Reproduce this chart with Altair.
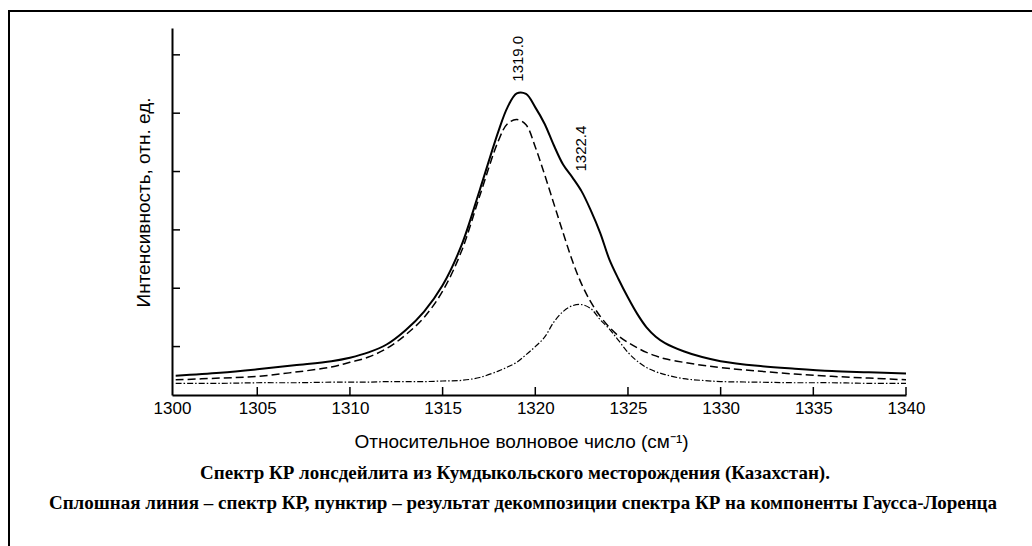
import altair as alt
import pandas as pd

# Wavenumber grid (cm^-1)
X = [1300.6, 1303, 1305, 1307, 1309, 1310, 1311, 1312, 1313, 1314, 1315, 1316, 1317,
     1318, 1318.5, 1319, 1319.5, 1320, 1320.5, 1321, 1321.5, 1322, 1322.5, 1323,
     1323.5, 1324, 1324.5, 1325, 1325.5, 1326, 1326.5, 1327, 1328, 1329, 1330,
     1332, 1334, 1336, 1338, 1340]

# Measured Raman spectrum (solid line)
SPECTRUM = [0.50, 0.55, 0.61, 0.68, 0.75, 0.81, 0.90, 1.04, 1.28, 1.60, 2.05, 2.72, 3.68,
            4.68, 5.10, 5.34, 5.33, 5.10, 4.82, 4.45, 4.12, 3.90, 3.66, 3.33,
            2.95, 2.49, 2.15, 1.84, 1.56, 1.33, 1.17, 1.06, 0.92, 0.82, 0.75,
            0.67, 0.62, 0.58, 0.56, 0.54]

# Component at 1319.0 (dashed)
COMP_1319 = [0.43, 0.46, 0.49, 0.56, 0.65, 0.73, 0.82, 0.97, 1.20, 1.50, 1.95, 2.62, 3.58,
             4.52, 4.82, 4.89, 4.80, 4.42, 3.95, 3.45, 2.95, 2.47, 2.07, 1.76,
             1.52, 1.33, 1.18, 1.07, 0.98, 0.90, 0.84, 0.79, 0.73, 0.68, 0.64,
             0.58, 0.53, 0.49, 0.46, 0.43]

# Component at 1322.4 (dash-dot)
COMP_1322 = [0.37, 0.37, 0.38, 0.38, 0.39, 0.39, 0.39, 0.40, 0.40, 0.40, 0.41, 0.42, 0.47,
             0.58, 0.65, 0.73, 0.86, 1.00, 1.16, 1.42, 1.60, 1.70, 1.72, 1.65,
             1.46, 1.30, 1.10, 0.90, 0.75, 0.64, 0.57, 0.52, 0.45, 0.42, 0.40,
             0.39, 0.38, 0.38, 0.37, 0.37]

PEAK_X = [1319.05, 1322.47]
PEAK_Y = [5.54, 4.00]
PEAK_LABELS = ["1319.0", "1322.4"]

X_TICKS = [1300.4, 1305, 1310, 1315, 1320, 1325, 1330, 1335, 1340]
X_TICK_MARKS = [1305, 1310, 1315, 1320, 1325, 1330, 1335, 1340]
Y_TICKS = [1, 2, 3, 4, 5, 6]

X_TITLE = "Относительное волновое число (см⁻¹)"
Y_TITLE = "Интенсивность, отн. ед."
CAPTION_1 = "Спектр КР лонсдейлита из Кумдыкольского месторождения (Казахстан)."
CAPTION_2 = ("Сплошная линия – спектр КР, пунктир – результат декомпозиции "
             "спектра КР на компоненты Гаусса-Лоренца")

W, H = 734, 367
LEFT, TOP = 172, 28

x_scale = alt.Scale(domain=[1300.4, 1340], nice=False, zero=False)
y_scale = alt.Scale(domain=[0.17, 6.46], nice=False, zero=False)

x_axis = alt.Axis(values=X_TICKS, labelExpr="'' + round(datum.value)", ticks=False,
                  grid=False, domainColor="black", domainWidth=2,
                  labelFont="Liberation Sans", labelFontSize=17, labelColor="black",
                  labelPadding=5, labelFlush=False,
                  title=X_TITLE, titleFont="Liberation Sans", titleFontSize=19,
                  titleFontWeight="normal", titleColor="black",
                  titleX=349, titleY=46, titleBaseline="middle")
y_axis = alt.Axis(labels=False, ticks=False, grid=False, domainColor="black", domainWidth=2,
                  title=Y_TITLE, titleFont="Liberation Sans", titleFontSize=19,
                  titleFontWeight="normal", titleColor="black",
                  titleX=-29, titleY=174, titleBaseline="middle", titleAngle=270)

xe = alt.X("x:Q", scale=x_scale, axis=x_axis)
ye = alt.Y("y:Q", scale=y_scale, axis=y_axis)


def line(vals, width, dash=None):
    df = pd.DataFrame({"x": X, "y": vals})
    kw = dict(color="black", strokeWidth=width, interpolate="catmull-rom")
    if dash:
        kw["strokeDash"] = dash
    return alt.Chart(df).mark_line(**kw).encode(x=xe, y=ye)


solid = line(SPECTRUM, 2)
dashed = line(COMP_1319, 1.5, [8, 4])
dashdot = line(COMP_1322, 1.2, [6, 2, 1.5, 2])

labels = alt.Chart(pd.DataFrame({"x": PEAK_X, "y": PEAK_Y, "t": PEAK_LABELS})).mark_text(
    angle=270, align="left", baseline="middle", font="Liberation Sans", fontSize=15,
    color="black").encode(x=xe, y=ye, text="t:N")

xticks = alt.Chart(pd.DataFrame({"x": X_TICK_MARKS})).mark_rule(
    color="black", strokeWidth=1.5).encode(x=xe, y=alt.value(H), y2=alt.value(H - 8))
yticks = alt.Chart(pd.DataFrame({"y": Y_TICKS})).mark_rule(
    color="black", strokeWidth=1.5).encode(y=ye, x=alt.value(0), x2=alt.value(8))

frame_top = alt.Chart(pd.DataFrame({"a": [0]})).mark_rule(color="black", strokeWidth=2).encode(
    x=alt.value(9 - LEFT), x2=alt.value(1040 - LEFT), y=alt.value(11 - TOP))
frame_left = alt.Chart(pd.DataFrame({"a": [0]})).mark_rule(color="black", strokeWidth=2).encode(
    x=alt.value(9 - LEFT), y=alt.value(10 - TOP), y2=alt.value(560 - TOP))

cap1 = alt.Chart(pd.DataFrame({"t": [CAPTION_1]})).mark_text(
    font="Liberation Serif", fontWeight="bold", fontSize=19, color="black",
    align="center", baseline="middle").encode(
    text="t:N", x=alt.value(515 - LEFT), y=alt.value(473 - TOP))
cap2 = alt.Chart(pd.DataFrame({"t": [CAPTION_2]})).mark_text(
    font="Liberation Serif", fontWeight="bold", fontSize=19, color="black",
    align="center", baseline="middle").encode(
    text="t:N", x=alt.value(523 - LEFT), y=alt.value(503 - TOP))

chart = alt.layer(
    solid, dashed, dashdot, labels, xticks, yticks, frame_top, frame_left, cap1, cap2
).properties(
    width=W, height=H,
    autosize=alt.AutoSizeParams(type="none"),
    padding={"left": LEFT, "top": TOP, "right": 1032 - LEFT - W, "bottom": 546 - TOP - H},
    background="white",
).configure_view(stroke=None)

chart.save("out.html", embed_options={"renderer": "svg", "actions": False})
